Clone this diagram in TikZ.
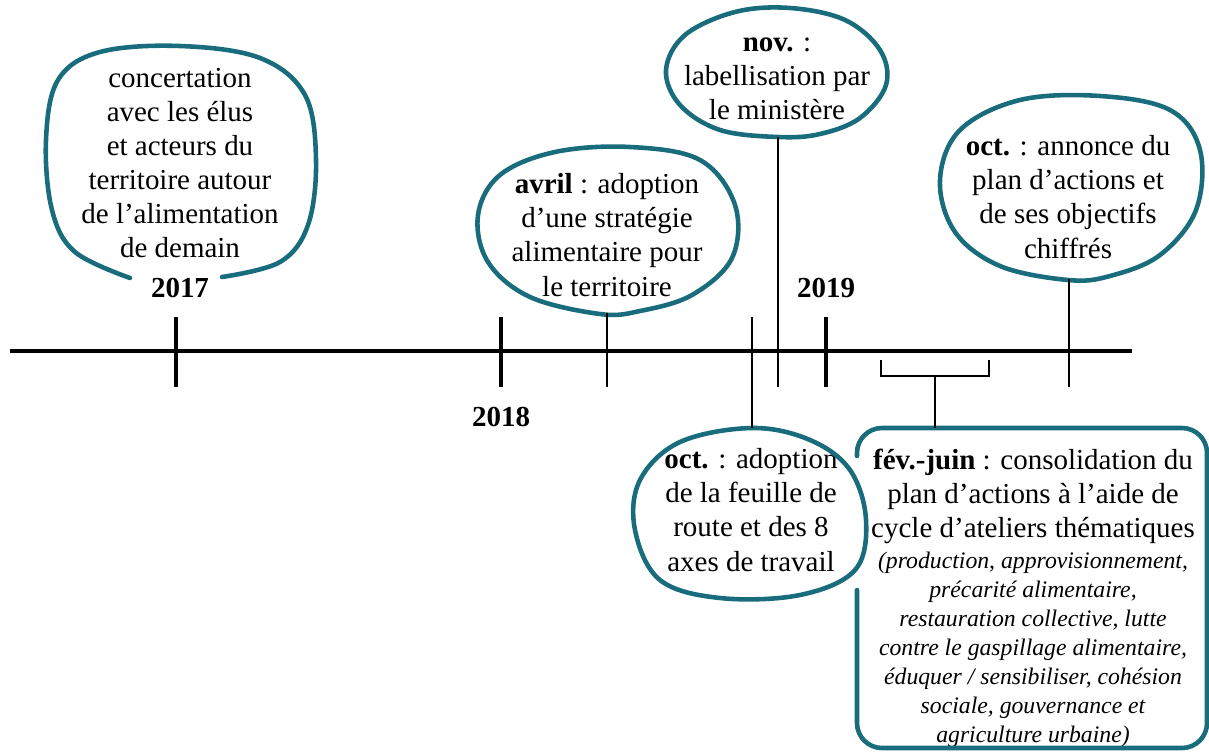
\documentclass[tikz,border=0pt]{standalone}
\usepackage{fontspec}
\setmainfont{Liberation Serif}
\usetikzlibrary{calc}
\definecolor{bubblecol}{RGB}{24,108,124}
\newcommand{\ital}[1]{{\fontsize{13.5}{16.5}\selectfont\itshape #1}}

\begin{document}
\begin{tikzpicture}[x=0.02cm,y=-0.02cm,
  bubble/.style={draw=bubblecol,line width=2.6pt,line cap=round,line join=round},
  txt/.style={align=center,inner sep=0pt,font=\fontsize{16.5}{19.4}\selectfont},
  year/.style={inner sep=0pt,font=\fontsize{16.5}{19.4}\selectfont\bfseries},
  axe/.style={line width=2.4pt},
  major/.style={line width=2.6pt},
  minor/.style={line width=0.85pt}]
\useasboundingbox (0,0) rectangle (1209,753);

% axe du temps
\coordinate (debut) at (10,351);
\coordinate (fin) at (1132,351);
\draw[axe] (debut) -- (fin);

\foreach \x in {176,501,826}
  \draw[major] (\x,317) -- (\x,387);

\node[year] (y2017) at (180,288) {2017};
\node[year] (y2018) at (501,417) {2018};
\node[year] (y2019) at (826,288) {2019};

% textes
\node[txt] (concert) at (180,163) {concertation\\avec les élus\\et acteurs du\\territoire autour\\de l’alimentation\\de demain};
\node[txt] (avril) at (607,235) {\textbf{avril} : adoption\\d’une stratégie\\alimentaire pour\\le territoire};
\node[txt] (nov) at (777,79) {\textbf{nov.} :\\labellisation par\\le ministère};
\node[txt] (octplan) at (1068,197) {\textbf{oct.} : annonce du\\plan d’actions et\\de ses objectifs\\chiffrés};
\node[txt] (octfeuille) at (751,510) {\textbf{oct.} : adoption\\de la feuille de\\route et des 8\\axes de travail};
\node[txt] (fevjuin) at (1033,598) {\textbf{fév.-juin} : consolidation du\\plan d’actions à l’aide de\\cycle d’ateliers thématiques\\[-1.8pt]
  \ital{(production, approvisionnement,}\\[-2.9pt]\ital{précarité alimentaire,}\\[-2.9pt]\ital{restauration collective, lutte}\\[-2.9pt]\ital{contre le gaspillage alimentaire,}\\[-2.9pt]\ital{éduquer / sensibiliser, cohésion}\\[-2.9pt]\ital{sociale, gouvernance et}\\[-2.9pt]\ital{agriculture urbaine)}};

% bulles
\draw[bubble] plot[smooth,tension=0.6] coordinates {(222,277) (280,262) (308,225) (316,160) (305,95) (260,58) (180,46) (100,52) (58,80) (46,140) (52,210) (75,252) (130,278)};
\draw[bubble] plot[smooth cycle,tension=0.6] coordinates {(600,314) (530,297) (488,262) (478,215) (500,175) (555,152) (630,147) (700,160) (735,205) (732,258) (692,295) (640,311)};
\draw[bubble] plot[smooth cycle,tension=0.6] coordinates {(778,137) (720,130) (680,105) (666,70) (685,35) (735,12) (790,8) (845,20) (880,50) (886,85) (860,118) (820,134)};
\draw[bubble] plot[smooth cycle,tension=0.6] coordinates {(1068,280) (1000,266) (955,232) (940,180) (960,130) (1020,100) (1100,96) (1170,110) (1200,150) (1196,210) (1160,255) (1110,276)};
\draw[bubble] plot[smooth cycle,tension=0.6] coordinates {(752,428) (810,440) (850,470) (866,520) (855,570) (800,595) (720,598) (660,580) (635,530) (640,480) (680,442)};
\draw[bubble,rounded corners=0.5cm] (857,590) -- (857,748) -- (1207,748) -- (1207,428) -- (857,428) -- (857,456);

% liens
\coordinate (avrilTick) at (607,387);
\coordinate (avrilTip) at (607,313);
\coordinate (octfTick) at (752,317);
\coordinate (octfTip) at (752,428);
\coordinate (novTick) at (778,387);
\coordinate (novTip) at (778,137);
\coordinate (octpTick) at (1069,387);
\coordinate (octpTip) at (1069,279);
\draw[minor] (avrilTick) -- (avrilTip);
\draw[minor] (octfTick) -- (octfTip);
\draw[minor] (novTick) -- (novTip);
\draw[minor] (octpTick) -- (octpTip);

% accolade fev.-juin
\coordinate (bg) at (881,360);
\coordinate (bd) at (989,360);
\coordinate (bm) at (935,376);
\coordinate (fevTip) at (935,428);
\draw[minor,line width=1.1pt] (bg) -- (bg |- bm) -- (bd |- bm) -- (bd);
\draw[minor] (bm) -- (fevTip);

\end{tikzpicture}
\end{document}
